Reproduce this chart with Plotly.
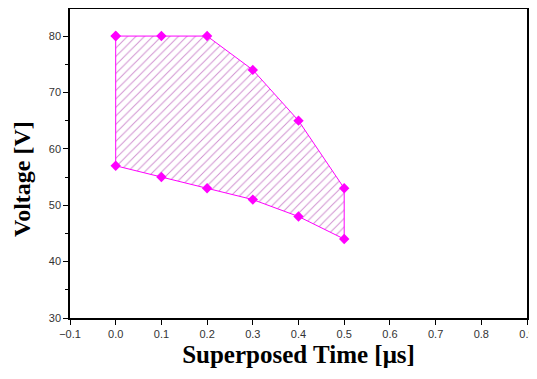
import plotly.graph_objects as go

time_us = [0.0, 0.1, 0.2, 0.3, 0.4, 0.5]
upper_v = [80, 80, 80, 74, 65, 53]
lower_v = [57, 55, 53, 51, 48, 44]

poly_x = time_us + time_us[::-1] + [time_us[0]]
poly_y = upper_v + lower_v[::-1] + [upper_v[0]]

magenta = "#FF00FF"

fig = go.Figure()
fig.add_trace(go.Scatter(
    x=poly_x, y=poly_y, mode="lines+markers", fill="toself",
    fillcolor="rgba(255,255,255,0)",
    fillpattern=dict(shape="/", fgcolor="#A020A0", bgcolor="rgba(255,255,255,0)", size=6, solidity=0.16),
    line=dict(color=magenta, width=1),
    marker=dict(symbol="diamond", size=8, color=magenta),
    showlegend=False, hoverinfo="skip",
))

axis_common = dict(
    showline=True, linecolor="black", linewidth=1.5, mirror=True,
    ticks="outside", ticklen=5, tickcolor="black",
    showgrid=False, zeroline=False, automargin=False,
    tickfont=dict(family="Liberation Sans, Arial", size=11, color="#333333"),
)

fig.update_xaxes(range=[-0.1, 0.9], dtick=0.1, tickformat=".1f", **axis_common,
                 title=dict(text="<b>Superposed Time [μs]</b>", standoff=7,
                            font=dict(family="Liberation Serif, Times New Roman", size=25, color="black")))
fig.update_yaxes(range=[30, 84.8], dtick=10, **axis_common,
                 minor=dict(ticks="outside", ticklen=3, dtick=5, tickcolor="black"))

fig.add_annotation(
    text="<b>Voltage [V]</b>", textangle=-90,
    xref="paper", yref="paper", x=-0.105, y=0.45,
    xanchor="center", yanchor="middle", showarrow=False,
    font=dict(family="Liberation Serif, Times New Roman", size=24, color="black"),
)

fig.update_layout(
    width=529, height=371,
    margin=dict(l=62, r=10, t=1, b=61),
    plot_bgcolor="white", paper_bgcolor="white",
)

fig.write_html("out.html")
